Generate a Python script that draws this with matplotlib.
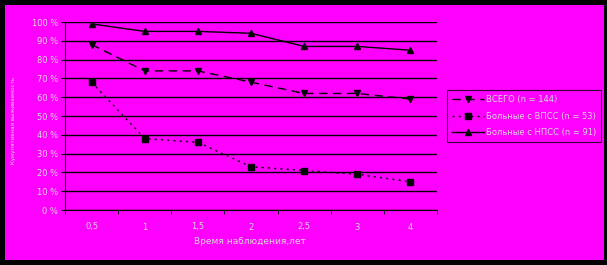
import matplotlib.pyplot as plt
from matplotlib.patches import Rectangle
from matplotlib.ticker import FixedLocator

# observation time categories (years)
years = ['0,5', '1', '1,5', '2', '2,5', '3', '4']
y_ticks = [0, 10, 20, 30, 40, 50, 60, 70, 80, 90, 100]

# survival, %
total = [88, 74, 74, 68, 62, 62, 59]
vpss = [68, 38, 36, 23, 21, 19, 15]
npss = [99, 95, 95, 94, 87, 87, 85]

MAG = '#ff00ff'
TXT = '#d8d8d8'

fig = plt.figure(figsize=(6.07, 2.65), dpi=100)
fig.patch.set_facecolor('black')
# magenta chart area inside black border
fig.patches.append(Rectangle((5/607, 5/265), 599/607, 255/265, transform=fig.transFigure,
                             facecolor=MAG, edgecolor='none', zorder=-10))

ax = fig.add_axes([65/607, 1 - 210/265, 372/607, 188/265])
ax.set_zorder(1)
ax.set_facecolor(MAG)
x = list(range(len(years)))

ax.plot(x, total, color='black', lw=1, ls=(0, (6, 4)), marker='v', ms=5,
        label='ВСЕГО (n = 144)')
ax.plot(x, vpss, color='black', lw=1, ls=(0, (1.5, 3)), marker='s', ms=4.5,
        label='Больные с ВПСС (n = 53)')
ax.plot(x, npss, color='black', lw=1, ls='-', marker='^', ms=5,
        label='Больные с НПСС (n = 91)')

ax.set_xlim(-0.5, len(years) - 0.5)
ax.set_ylim(0, 100)
ax.set_yticks(y_ticks)
ax.set_yticklabels(['{} %'.format(v) for v in y_ticks])
ax.yaxis.grid(True, color='black', lw=1)
ax.set_axisbelow(True)
ax.set_xticks(x)
ax.set_xticklabels(years)
ax.xaxis.set_minor_locator(FixedLocator([i - 0.5 for i in range(len(years) + 1)]))
ax.tick_params(axis='x', which='major', length=0, pad=9, labelsize=6, labelcolor=TXT)
ax.tick_params(axis='x', which='minor', length=3, direction='out', color='black')
ax.tick_params(axis='y', length=3, color='black', labelsize=6, labelcolor=TXT, pad=2)
for s in ['top', 'right']:
    ax.spines[s].set_visible(False)
for s in ['left', 'bottom']:
    ax.spines[s].set_color('black')

fig.text(250/607, 1 - 242/265, 'Время наблюдения,лет', ha='center', va='center',
         fontsize=6.5, color=TXT)
fig.text(14/607, 1 - 120/265, 'Кумулятивная выживаемость', rotation=90,
         ha='center', va='center', fontsize=4, color=TXT)

leg = ax.legend(loc='center left', bbox_to_anchor=((447 - 65)/372, 0.5), fontsize=6,
                frameon=True, fancybox=False, handlelength=3.8, borderpad=0.6,
                labelspacing=0.9, handletextpad=0.3, borderaxespad=0)
leg.get_frame().set_facecolor(MAG)
leg.get_frame().set_edgecolor('black')
leg.get_frame().set_linewidth(0.8)
for t in leg.get_texts():
    t.set_color(TXT)

fig.savefig('out.png', dpi=100, facecolor=fig.get_facecolor())
